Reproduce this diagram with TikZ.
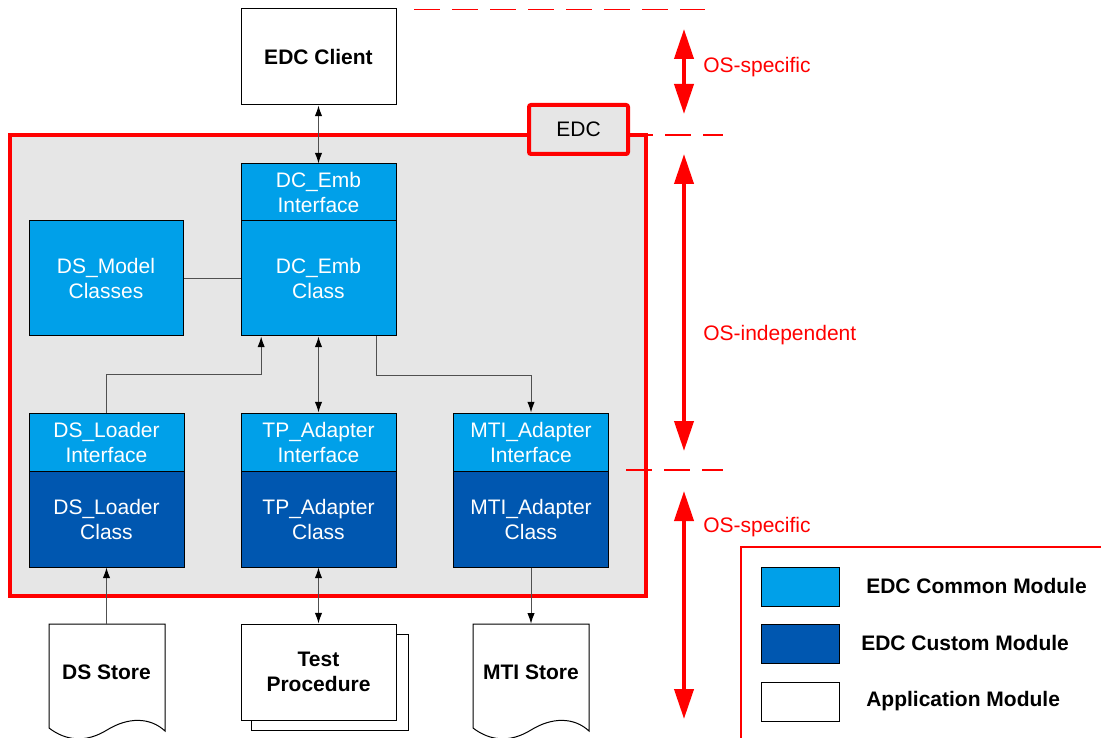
\documentclass[tikz,border=0pt]{standalone}
\usepackage{fontspec}
\setmainfont{Liberation Sans}
\usetikzlibrary{arrows.meta}
\definecolor{edcblue}{RGB}{0,160,233}
\definecolor{edcdark}{RGB}{0,87,176}
\definecolor{edcgray}{RGB}{230,230,230}
\definecolor{connline}{RGB}{80,80,80}
\newcommand{\boxfont}{\fontsize{15.75}{18.75}\selectfont}
\tikzset{
  modbox/.style={draw=black, line width=0.75pt, inner sep=0pt, minimum width=116.25pt, align=center, font=\boxfont},
  common/.style={modbox, fill=edcblue, text=white},
  custom/.style={modbox, fill=edcdark, text=white},
  appbox/.style={modbox, fill=white, text=black, font=\boxfont\bfseries},
  store/.style={inner sep=0pt, minimum width=87pt, minimum height=72pt, align=center, font=\boxfont\bfseries},
  docline/.style={draw=black, line width=0.75pt, fill=white},
  edcframe/.style={draw=red, line width=3pt, fill=edcgray, minimum width=477pt, minimum height=345.75pt},
  edctag/.style={draw=red, line width=3pt, fill=edcgray, rounded corners=1.5pt, minimum width=74.25pt, minimum height=36.75pt, font=\boxfont},
  conn/.style={draw=connline, line width=0.75pt},
  arr/.style={conn, -{Latex[length=8pt,width=5.5pt,color=black]}},
  dblarr/.style={conn, {Latex[length=8pt,width=5.5pt,color=black]}-{Latex[length=8pt,width=5.5pt,color=black]}},
  osline/.style={red, line width=1.1pt, dash pattern=on 19.5pt off 9pt},
  osarrow/.style={red, line width=3pt, {Triangle[length=22.5pt,width=14.25pt]}-{Triangle[length=22.5pt,width=14.25pt]}},
  oslabel/.style={anchor=west, inner sep=0pt, text=red, font=\boxfont},
  keybox/.style={draw=black, line width=0.75pt, minimum width=58.5pt, minimum height=29.25pt},
  keylabel/.style={anchor=west, inner sep=0pt, font=\boxfont\bfseries}
}
\begin{document}
\begin{tikzpicture}[x=0.75pt,y=-0.75pt]
    \useasboundingbox (0,0) rectangle (1101,738);
    \node[edcframe] (edc) at (328,365.5) {};
    \node[edctag] (tag) at (578.5,129.5) {EDC};
    \draw[osline] (414,9.5) -- (705,9.5);
    \draw[osline] (627,135) -- (723,135);
    \draw[osline] (626,470) -- (723,470);

    \node[appbox, minimum height=72pt] (client) at (318.5,57) {EDC Client};
    \node[common, minimum height=42.75pt] (dcif) at (318.5,192.5) {DC\_Emb\\Interface};
    \node[common, minimum height=86.25pt] (dccl) at (318.5,278.5) {DC\_Emb\\Class};
    \node[common, minimum height=86.25pt, minimum width=115.5pt] (dsmodel) at (106,278.5) {DS\_Model\\Classes};

    \node[common, minimum height=43.5pt] (dsldif) at (106.5,442) {DS\_Loader\\Interface};
    \node[custom, minimum height=72pt] (dsldcl) at (106.5,519) {DS\_Loader\\Class};
    \node[common, minimum height=43.5pt] (tpif) at (318.5,442) {TP\_Adapter\\Interface};
    \node[custom, minimum height=72pt] (tpcl) at (318.5,519) {TP\_Adapter\\Class};
    \node[common, minimum height=43.5pt] (mtiif) at (531,442) {MTI\_Adapter\\Interface};
    \node[custom, minimum height=72pt] (mticl) at (531,519) {MTI\_Adapter\\Class};

    \draw[docline] (49,624) -- (165,624) -- (165,731) .. controls (150,717) and (128,717) .. (107,730) .. controls (86,743) and (66,741) .. (49,728) -- cycle;
    \node[store] (dsstore) at (106.5,672) {DS Store};
    \draw[docline] (473,624) -- (589,624) -- (589,731) .. controls (574,717) and (552,717) .. (531,730) .. controls (510,743) and (490,741) .. (473,728) -- cycle;
    \node[store] (mtistore) at (531,672) {MTI Store};
    \draw[docline] (251,634) rectangle (408,730);
    \node[appbox, minimum height=72pt] (tpdoc) at (318.5,672) {Test\\Procedure};

    \draw[dblarr] (client) -- (dcif);
    \draw[conn] (dsmodel) -- (dccl);
    \draw[arr] (dsldif.north) -- ++(0,-38) -| ([xshift=-43pt]dccl.south);
    \draw[dblarr] (dccl) -- (tpif);
    \draw[arr] ([xshift=43.5pt]dccl.south) -- ++(0,39) -| (mtiif.north);
    \draw[arr] (dsstore.north) -- (dsldcl.south);
    \draw[dblarr] (tpcl) -- (tpdoc);
    \draw[arr] (mticl.south) -- (mtistore.north);

    \coordinate (top1) at (684,29);
    \coordinate (bot1) at (684,114);
    \coordinate (top2) at (684,154);
    \coordinate (bot2) at (684,451);
    \coordinate (top3) at (684,491);
    \coordinate (bot3) at (684,719);
    \draw[osarrow] (top1) -- (bot1);
    \draw[osarrow] (top2) -- (bot2);
    \draw[osarrow] (top3) -- (bot3);
    \node[oslabel] (osclient) at (703,67) {OS-specific};
    \node[oslabel] (oscore) at (703,335) {OS-independent};
    \node[oslabel] (osport) at (703,527) {OS-specific};

    \draw[red, line width=1.5pt] (741,740) -- (741,547) -- (1103,547);
    \node[keybox, fill=edcblue] (keycommon) at (800,586.5) {};
    \node[keybox, fill=edcdark] (keycustom) at (800,644) {};
    \node[keybox, fill=white] (keyapp) at (800,702) {};
    \node[keylabel] (lblcommon) at (866,586) {EDC Common Module};
    \node[keylabel] (lblcustom) at (861,643) {EDC Custom Module};
    \node[keylabel] (lblapp) at (866,701) {Application Module};
\end{tikzpicture}
\end{document}
